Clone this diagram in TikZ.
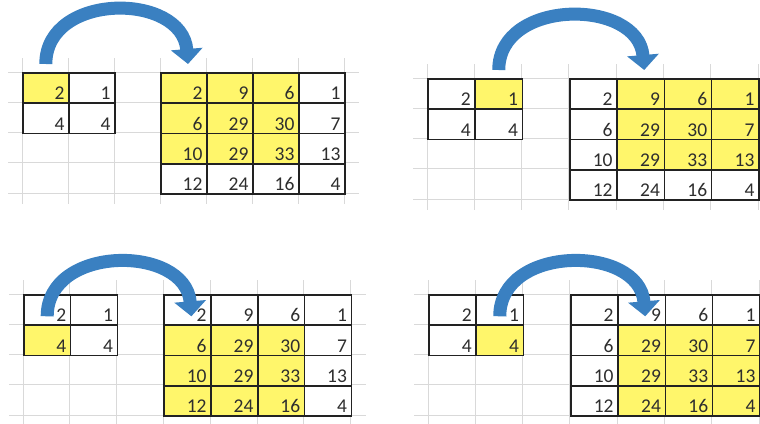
\documentclass[tikz,border=0pt]{standalone}
\usepackage{fontspec}
\setmainfont{Carlito}
\usetikzlibrary{arrows.meta}
\definecolor{cyellow}{HTML}{FFF66B}
\definecolor{cgrid}{HTML}{D9D9D9}
\definecolor{cline}{HTML}{222222}
\definecolor{ctext}{HTML}{2E2E2E}
\definecolor{cblue}{HTML}{3A80C1}
\tikzset{
  every picture/.style={x=1pt, y=-1pt},
  gridline/.style={draw=cgrid, line width=0.9pt},
  cell/.style={draw=cline, line width=1.6pt, minimum width=#1pt, minimum height=30.3pt, inner sep=0pt, anchor=north west},
  num/.style={font=\fontsize{19.5}{19.5}\selectfont, text=ctext, anchor=base east, inner sep=0pt},
  slide/.style={-{Triangle[length=15pt, width=31pt]}, draw=cblue, line width=13pt},
}
% one panel: name, left, top, cell width, row and column of the yellow kernel cell
\newcommand\slidepanel[6]{%
  \foreach \k in {0,...,7}
    \draw[gridline] (#2+\k*#4, #3-14) -- (#2+\k*#4, #3+4*30.3+11);
  \foreach \j in {0,...,4}
    \draw[gridline] (#2-14, #3+\j*30.3) -- (#2+7*#4+15, #3+\j*30.3);
  % kernel
  \foreach \v [count=\i from 0] in {2,1,4,4} {
    \pgfmathtruncatemacro\rr{div(\i,2)+1}
    \pgfmathtruncatemacro\cc{mod(\i,2)+1}
    \pgfmathtruncatemacro\on{and(\rr==#5,\cc==#6)}
    \ifnum\on=1 \def\cfill{cyellow}\else\def\cfill{white}\fi
    \node[cell=#4, fill=\cfill] (#1-k\rr\cc) at (#2+\cc*#4-#4, #3+\rr*30.3-30.3) {};
    \node[num] (#1-kn\rr\cc) at ([xshift=-5pt, yshift=4pt]#1-k\rr\cc.south east) {\v};
  }
  % image
  \foreach \v [count=\i from 0] in {2,9,6,1,6,29,30,7,10,29,33,13,12,24,16,4} {
    \pgfmathtruncatemacro\rr{div(\i,4)+1}
    \pgfmathtruncatemacro\cc{mod(\i,4)+1}
    \pgfmathtruncatemacro\on{(\rr>=#5)*(\rr<=#5+2)*(\cc>=#6)*(\cc<=#6+2)}
    \ifnum\on=1 \def\cfill{cyellow}\else\def\cfill{white}\fi
    \node[cell=#4, fill=\cfill] (#1-m\rr\cc) at (#2+\cc*#4+2*#4, #3+\rr*30.3-30.3) {};
    \node[num] (#1-mn\rr\cc) at ([xshift=-5pt, yshift=4pt]#1-m\rr\cc.south east) {\v};
  }
  \coordinate (#1-from) at ([yshift=8pt]#1-k#5#6.north);
  \coordinate (#1-to) at ([xshift=28pt, yshift=8pt]#1-m#5#6.north west);
  \draw[slide] (#1-from) .. controls +(0,-72) and +(-6,-72) .. (#1-to);
}

\begin{document}
\begin{tikzpicture}
  \useasboundingbox (0,0) rectangle (760,423);
  \slidepanel{tl}{22}{72}{46}{1}{1}
  \slidepanel{tr}{427}{78}{47.3}{1}{2}
  \slidepanel{bl}{23}{294}{46.8}{2}{1}
  \slidepanel{br}{428}{294}{47.3}{2}{2}
\end{tikzpicture}
\end{document}
